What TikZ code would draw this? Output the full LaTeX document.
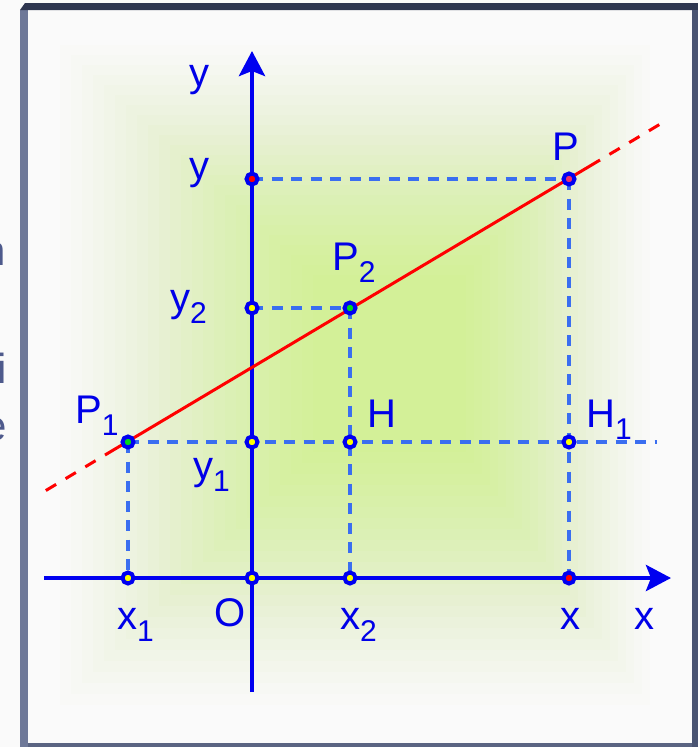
\documentclass[tikz,border=0pt]{standalone}
\usepackage{fontspec}
\setmainfont{Liberation Sans}
\usepackage{xcolor}
\definecolor{axisblue}{HTML}{0000F0}
\definecolor{guideblue}{HTML}{3A6EF0}
\definecolor{labelblue}{HTML}{0000E8}
\definecolor{linered}{HTML}{FF0000}
\definecolor{pinkred}{HTML}{F0306A}
\definecolor{dotgreen}{HTML}{00D81A}
\definecolor{dotyellow}{HTML}{FFFF00}
\definecolor{glowgreen}{HTML}{CCF07E}
\definecolor{pagebg}{HTML}{FAFAFA}
\definecolor{frametop}{HTML}{2E3650}
\definecolor{frameleft}{HTML}{6E7898}
\definecolor{frameright}{HTML}{4A5472}
\definecolor{framebot}{HTML}{5A6482}
\definecolor{sidetext}{HTML}{4E5A8C}
\usetikzlibrary{arrows.meta}
\newcommand{\idx}[1]{\raisebox{-12pt}{\fontsize{30}{32}\selectfont #1}}

\begin{document}
\begin{tikzpicture}[x=1pt,y=-1pt,
  axis/.style={draw=axisblue,line width=4.5pt},
  axtip/.style={-{Stealth[length=25pt,width=26pt,inset=5pt]}},
  guide/.style={draw=guideblue,line width=3.8pt,dash pattern=on 11pt off 8.5pt},
  redline/.style={draw=linered,line width=3pt},
  reddash/.style={redline,dash pattern=on 12pt off 11pt,dash phase=12pt},
  dot/.style={circle,draw=axisblue,line width=4pt,fill=#1,
              inner sep=0pt,minimum size=11pt},
  lbl/.style={anchor=base west,inner sep=0pt,text=labelblue,
              font=\fontsize{40}{44}\selectfont},
  side/.style={anchor=base east,inner sep=0pt,text=sidetext,
               font=\fontsize{42}{46}\selectfont}
]
\useasboundingbox (0,0) rectangle (698,747);
\fill[pagebg] (0,0) rectangle (698,747);

% cut-off text left of the frame
\node[side] (sideN) at (6,265) {n};
\node[side] (sideI) at (7,383) {i};
\node[side] (sideE) at (7,440) {e};

% soft green glow
\begin{scope}
  \clip (28,10) rectangle (692,743);
  \foreach \k [evaluate=\k as \op using 0.02+0.003*\k] in {0,...,23}
    \fill[glowgreen,opacity=\op]
      (60+11*\k,45+10*\k) rectangle (650-8*\k,705-11*\k);
\end{scope}

% frame
\fill[frameleft] (20,10) rectangle (28,747);
\fill[frametop] (25,3) -- (698,3) -- (698,10) -- (20,10) -- cycle;
\fill[frameright] (692,10) rectangle (698,747);
\fill[framebot] (28,743) rectangle (692,747);

% points
\coordinate (O)  at (252,578);
\coordinate (x1) at (128,578);
\coordinate (x2) at (350,578);
\coordinate (xx) at (569,578);
\coordinate (y1) at (252,442);
\coordinate (y2) at (252,308);
\coordinate (yy) at (252,179);
\coordinate (P1) at (128,442);
\coordinate (P2) at (350,308);
\coordinate (P)  at (569,179);
\coordinate (H)  at (350,442);
\coordinate (H1) at (569,442);
\coordinate (hend)   at (657,442);
\coordinate (solidL) at (105,455);
\coordinate (solidR) at (600,160);
\coordinate (lend)   at (40,494);
\coordinate (rend)   at (667,120);
\coordinate (xstart) at (44,578);
\coordinate (xtip)   at (671,578);
\coordinate (ystart) at (252,692);
\coordinate (ytip)   at (252,51);

% projections
\draw[guide] (yy) -- (P);
\draw[guide] (P) -- (xx);
\draw[guide] (y2) -- (P2);
\draw[guide] (P2) -- (x2);
\draw[guide] (P1) -- (hend);
\draw[guide] (P1) -- (x1);

% axes
\draw[axis,axtip] (xstart) -- (xtip);
\draw[axis,axtip] (ystart) -- (ytip);

% the line
\draw[redline] (solidL) -- (solidR);
\draw[reddash] (solidR) -- (rend);
\draw[reddash] (solidL) -- (lend);

% dots
\node[dot=linered]   (dY)  at (yy) {};
\node[dot=dotyellow] (dY2) at (y2) {};
\node[dot=dotyellow] (dY1) at (y1) {};
\node[dot=dotyellow] (dO)  at (O)  {};
\node[dot=dotyellow] (dX1) at (x1) {};
\node[dot=dotyellow] (dX2) at (x2) {};
\node[dot=linered]   (dX)  at (xx) {};
\node[dot=dotyellow] (dH)  at (H)  {};
\node[dot=dotyellow] (dH1) at (H1) {};
\node[dot=dotgreen]  (dP1) at (P1) {};
\node[dot=dotgreen]  (dP2) at (P2) {};
\node[dot=pinkred]   (dP)  at (P)  {};

% labels
\node[lbl] (labYaxis) at (189,86)  {y};
\node[lbl] (labY)     at (189,179) {y};
\node[lbl] (labY2)    at (170,311) {y\idx{2}};
\node[lbl] (labY1)    at (193,479) {y\idx{1}};
\node[lbl] (labP)     at (552,160) {P};
\node[lbl] (labP2)    at (332,270) {P\idx{2}};
\node[lbl] (labP1)    at (75,423)  {P\idx{1}};
\node[lbl] (labH)     at (367,427) {H};
\node[lbl] (labH1)    at (586,427) {H\idx{1}};
\node[lbl] (labX1)    at (117,629) {x\idx{1}};
\node[lbl] (labO)     at (214,626) {O};
\node[lbl] (labX2)    at (340,629) {x\idx{2}};
\node[lbl] (labX)     at (560,629) {x};
\node[lbl] (labXaxis) at (634,629) {x};
\end{tikzpicture}
\end{document}
